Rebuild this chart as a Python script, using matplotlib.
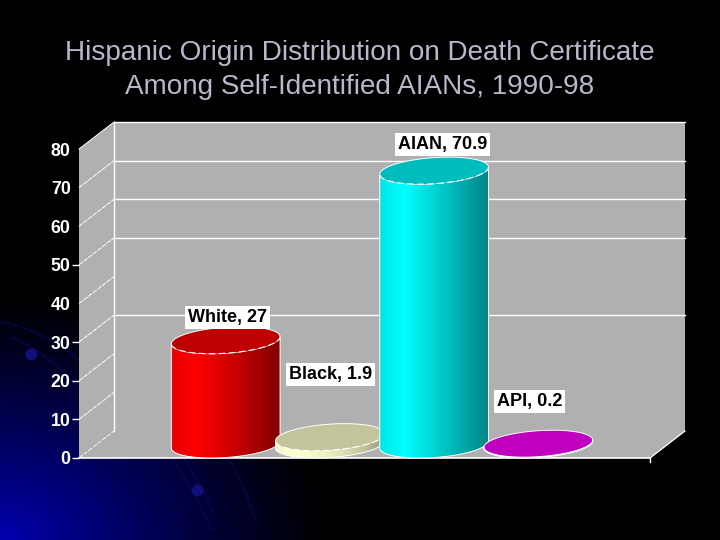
#!/usr/bin/env python3
"""Hispanic origin distribution, fake 3D cylinders on a slide background."""

import numpy as np
import matplotlib
matplotlib.use("Agg")
import matplotlib.pyplot as plt
from matplotlib.colors import LinearSegmentedColormap
from matplotlib.patches import Polygon

plt.rcParams["font.family"] = ["Liberation Sans", "DejaVu Sans"]

categories = ["White", "Black", "AIAN", "API"]
values = [27, 1.9, 70.9, 0.2]
value_labels = ["27", "1.9", "70.9", "0.2"]
yticks = [0, 10, 20, 30, 40, 50, 60, 70, 80]
back_grid = [30, 50, 60, 70]
ticks_drawn = [0, 10, 20, 30, 50]

# pixel geometry of the chart box
W, H = 720, 540
LEFT, RIGHT, BASE, TOP = 79, 650, 458, 149
DEPTH_X, DEPTH_Y = 35, 27
PX_X = 1 / (RIGHT - LEFT)
PX_Y = 80 / (BASE - TOP)
BAR_W = 104.2 * PX_X
A, B, TILT = 54.5, 13, np.radians(4)
WALL = "#b0b0b0"
TITLE_COLOR = "#b8b8cc"

body_stops = [
    ["#e00000", "#ff0000", "#d80000", "#a80000", "#780000"],
    ["#f4f4c8", "#ffffd0", "#eeeebc", "#c8c8a0", "#909078"],
    ["#00e0e0", "#00ffff", "#00d4d4", "#00a8a8", "#007c7c"],
    ["#c000c0", "#c000c0", "#c000c0", "#c000c0", "#c000c0"],
]
top_colors = ["#bf0000", "#c4c49c", "#00bdbd", "#c000c0"]
label_offsets = [(1.5, 36), (0.5, 76), (8.5, 39.5), (-8.5, 56)]

fig = plt.figure(figsize=(W / 100, H / 100), dpi=100, facecolor="black")

# slide background
bg = fig.add_axes([0, 0, 1, 1], zorder=0)
yy, xx = np.mgrid[0:H, 0:W]
d = np.sqrt((xx / 330) ** 2 + ((H - yy) / 245) ** 2)
blue = 175 * np.clip(1 - d, 0, 1) ** 1.15
rgb = np.zeros((H, W, 3))
rgb[..., 2] = blue / 255
bg.imshow(rgb, extent=(0, W, H, 0), aspect="auto", interpolation="bilinear")
for p0, p1, p2 in [((0, 322), (40, 328), (82, 362)), ((12, 338), (45, 350), (82, 392)),
                   ((172, 458), (188, 480), (212, 530)), ((183, 458), (198, 478), (214, 515)),
                   ((228, 458), (244, 485), (256, 522))]:
    t = np.linspace(0, 1, 40)
    bx = (1 - t) ** 2 * p0[0] + 2 * t * (1 - t) * p1[0] + t ** 2 * p2[0]
    by = (1 - t) ** 2 * p0[1] + 2 * t * (1 - t) * p1[1] + t ** 2 * p2[1]
    bg.plot(bx, by, color="#0c0c6a", lw=1.2, alpha=0.5)
bg.plot([31, 197], [354, 490], "o", color="#10107a", ms=7.5, ls="none")
bg.set_xlim(0, W)
bg.set_ylim(H, 0)
bg.axis("off")

ax = fig.add_axes([LEFT / W, 1 - BASE / H, (RIGHT - LEFT) / W, (BASE - TOP) / H], zorder=1)
ax.patch.set_visible(False)
for s in ax.spines.values():
    s.set_visible(False)

dx = DEPTH_X * PX_X
dy = DEPTH_Y * PX_Y

# walls and floor
ax.add_patch(Polygon([(0, 0), (dx, dy), (dx, 80 + dy), (0, 80)], fc=WALL, ec="none", clip_on=False, zorder=1))
ax.add_patch(Polygon([(dx, dy), (1 + dx, dy), (1 + dx, 80 + dy), (dx, 80 + dy)], fc=WALL, ec="none", clip_on=False, zorder=1))
ax.add_patch(Polygon([(0, 0), (dx, dy), (1 + dx, dy), (1, 0)], fc=WALL, ec="none", clip_on=False, zorder=1))

for v in yticks:
    ax.plot([0, dx], [v, v + dy], color="white", lw=0.7, ls=(0, (5, 1)) if v != 80 else "-", clip_on=False, zorder=2)
for v in back_grid + [80]:
    ax.plot([dx, 1 + dx], [v + dy, v + dy], color="white", lw=1.0, clip_on=False, zorder=2)
ax.plot([dx, dx], [dy, 80 + dy], color="white", lw=1.0, clip_on=False, zorder=2)
ax.plot([0, 1], [0, 0], color="white", lw=1.2, clip_on=False, zorder=2)
ax.plot([1, 1 + dx], [0, dy], color="white", lw=0.9, clip_on=False, zorder=2)
ax.plot([1, 1], [0, -4 * PX_Y], color="white", lw=1.0, clip_on=False, zorder=2)


def ellipse_pts(cx, level, t):
    ex = A * np.cos(t) * np.cos(TILT) - B * np.sin(t) * np.sin(TILT)
    ey = A * np.cos(t) * np.sin(TILT) + B * np.sin(t) * np.cos(TILT)
    return cx + ex * PX_X, level + dy / 2 + ey * PX_Y


# cylinders, drawn in series order so each overlaps the one before it
for i, (name, val) in enumerate(zip(categories, values)):
    cx = 0.5 + dx / 2 + (i - 1.5) * BAR_W
    z = 3 + i
    low = np.linspace(np.pi, 2 * np.pi, 60)
    bx, by = ellipse_pts(cx, 0, low)
    tx, ty = ellipse_pts(cx, val, low[::-1])
    outline = np.column_stack([np.r_[bx, tx], np.r_[by, ty]])
    poly = Polygon(outline, fc="none", ec="white", lw=0.7, clip_on=False, zorder=z + 0.2)
    ax.add_patch(poly)

    cmap = LinearSegmentedColormap.from_list("c%d" % i, body_stops[i])
    grad = np.linspace(0, 1, 128).reshape(1, -1)
    im = ax.imshow(grad, cmap=cmap, aspect="auto", zorder=z,
                   extent=(cx - A * PX_X - 0.01, cx + A * PX_X + 0.01, -5, val + dy + 5))
    im.set_clip_path(Polygon(outline, transform=ax.transData))

    full = np.linspace(0, 2 * np.pi, 120)
    ex, ey = ellipse_pts(cx, val, full)
    ax.fill(ex, ey, color=top_colors[i], lw=0, clip_on=False, zorder=z + 0.3)
    ax.plot(ex[:61], ey[:61], color="white", lw=0.7, clip_on=False, zorder=z + 0.4)
    ax.plot(ex[60:], ey[60:], color="white", lw=0.8, ls=(0, (6, 3)) if i < 3 else "-",
            clip_on=False, zorder=z + 0.4)

    ax.annotate("%s, %s" % (name, value_labels[i]), xy=(cx, val),
                xytext=label_offsets[i], textcoords="offset pixels",
                ha="center", va="center", fontsize=13, fontweight="bold", color="black",
                bbox=dict(boxstyle="square,pad=0.16", fc="white", ec="none"),
                annotation_clip=False, zorder=10)

ax.set_xlim(0, 1)
ax.set_ylim(0, 80)
ax.set_xticks([])
ax.set_yticks(yticks)
ax.tick_params(axis="y", colors="white", length=5, width=1.0, pad=1, labelsize=12.8)
for lab in ax.get_yticklabels():
    lab.set_fontweight("bold")
for v, tick in zip(yticks, ax.yaxis.get_major_ticks()):
    tick.tick1line.set_visible(v in ticks_drawn)

fig.text(360 / W, 1 - 52.5 / H, "Hispanic Origin Distribution on Death Certificate",
         ha="center", va="center", fontsize=20.1, color=TITLE_COLOR)
fig.text(360 / W, 1 - 86.5 / H, "Among Self-Identified AIANs, 1990-98",
         ha="center", va="center", fontsize=20.1, color=TITLE_COLOR)

fig.savefig("out.png", dpi=100, facecolor="black")
plt.close(fig)
